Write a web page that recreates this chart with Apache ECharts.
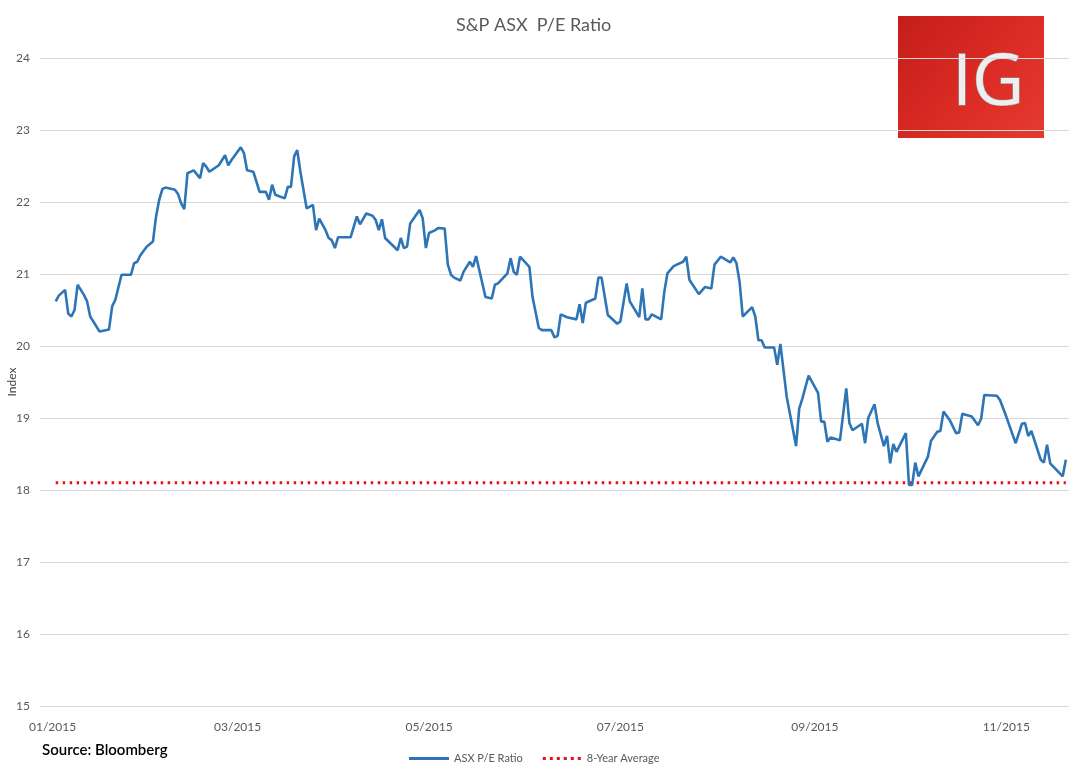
<!DOCTYPE html>
<html>
<head>
<meta charset="utf-8">
<script src="https://cdn.jsdelivr.net/npm/echarts@6/dist/echarts.min.js"></script>
<style>
html,body{margin:0;padding:0;background:#fff;}
#chart{width:1074px;height:771px;}
</style>
</head>
<body>
<div id="chart"></div>
<script>
const titleText = 'S&P ASX  P/E Ratio';
const seriesNames = ['ASX P/E Ratio', '8-Year Average'];
const yTicks = [15, 16, 17, 18, 19, 20, 21, 22, 23, 24];
const xTickDates = ['2015-01-01', '2015-03-01', '2015-05-01', '2015-07-01', '2015-09-01', '2015-11-01'];
const averageValue = 18.1;

const dates = [
'2015-01-02','2015-01-03','2015-01-05','2015-01-06','2015-01-07','2015-01-08','2015-01-09','2015-01-11','2015-01-12','2015-01-13',
'2015-01-14','2015-01-16','2015-01-19','2015-01-20','2015-01-21','2015-01-23','2015-01-26','2015-01-27','2015-01-28','2015-01-29',
'2015-01-31','2015-02-02','2015-02-03','2015-02-04','2015-02-05','2015-02-06','2015-02-09','2015-02-10','2015-02-11','2015-02-12',
'2015-02-13','2015-02-15','2015-02-17','2015-02-18','2015-02-19','2015-02-20','2015-02-23','2015-02-25','2015-02-26','2015-02-27',
'2015-03-02','2015-03-03','2015-03-04','2015-03-06','2015-03-08','2015-03-10','2015-03-11','2015-03-12','2015-03-13','2015-03-16',
'2015-03-17','2015-03-18','2015-03-19','2015-03-20','2015-03-21','2015-03-23','2015-03-25','2015-03-26','2015-03-27','2015-03-29',
'2015-03-30','2015-03-31','2015-04-01','2015-04-02','2015-04-06','2015-04-08','2015-04-09','2015-04-11','2015-04-13','2015-04-14',
'2015-04-15','2015-04-16','2015-04-17','2015-04-21','2015-04-22','2015-04-23','2015-04-24','2015-04-25','2015-04-28','2015-04-29',
'2015-04-30','2015-05-01','2015-05-03','2015-05-04','2015-05-06','2015-05-07','2015-05-08','2015-05-09','2015-05-11','2015-05-12',
'2015-05-14','2015-05-15','2015-05-16','2015-05-17','2015-05-19','2015-05-21','2015-05-22','2015-05-23','2015-05-26','2015-05-27',
'2015-05-28','2015-05-29','2015-05-30','2015-06-02','2015-06-03','2015-06-05','2015-06-06','2015-06-09','2015-06-10','2015-06-11',
'2015-06-12','2015-06-14','2015-06-17','2015-06-18','2015-06-19','2015-06-20','2015-06-23','2015-06-24','2015-06-25','2015-06-27',
'2015-06-30','2015-07-01','2015-07-03','2015-07-04','2015-07-07','2015-07-08','2015-07-09','2015-07-10','2015-07-11','2015-07-14',
'2015-07-15','2015-07-16','2015-07-18','2015-07-19','2015-07-21','2015-07-22','2015-07-23','2015-07-26','2015-07-28','2015-07-30',
'2015-07-31','2015-08-02','2015-08-05','2015-08-06','2015-08-07','2015-08-08','2015-08-09','2015-08-12','2015-08-13','2015-08-14',
'2015-08-15','2015-08-16','2015-08-19','2015-08-20','2015-08-21','2015-08-23','2015-08-26','2015-08-27','2015-08-28','2015-08-30',
'2015-09-02','2015-09-03','2015-09-04','2015-09-05','2015-09-06','2015-09-09','2015-09-11','2015-09-12','2015-09-13','2015-09-16',
'2015-09-17','2015-09-18','2015-09-20','2015-09-21','2015-09-23','2015-09-24','2015-09-25','2015-09-26','2015-09-27','2015-09-30',
'2015-10-01','2015-10-02','2015-10-03','2015-10-04','2015-10-07','2015-10-08','2015-10-10','2015-10-11','2015-10-12','2015-10-14',
'2015-10-16','2015-10-17','2015-10-18','2015-10-21','2015-10-23','2015-10-24','2015-10-25','2015-10-29','2015-10-30','2015-11-01',
'2015-11-04','2015-11-06','2015-11-07','2015-11-08','2015-11-09','2015-11-12','2015-11-13','2015-11-14','2015-11-15','2015-11-19',
'2015-11-20'
];

const peValues = [
20.62,20.70,20.78,20.45,20.41,20.50,20.85,20.71,20.62,20.41,
20.34,20.20,20.23,20.55,20.64,20.99,20.99,21.15,21.17,21.26,
21.38,21.45,21.80,22.03,22.18,22.20,22.17,22.11,21.98,21.90,
22.40,22.44,22.33,22.54,22.49,22.42,22.51,22.65,22.51,22.58,
22.76,22.68,22.44,22.42,22.14,22.14,22.03,22.24,22.10,22.05,
22.21,22.21,22.63,22.72,22.42,21.91,21.96,21.61,21.77,21.61,
21.50,21.47,21.36,21.51,21.51,21.80,21.69,21.84,21.81,21.75,
21.61,21.76,21.50,21.33,21.50,21.36,21.38,21.70,21.89,21.77,
21.36,21.57,21.61,21.64,21.63,21.13,20.99,20.95,20.91,21.03,
21.17,21.10,21.25,21.06,20.68,20.66,20.85,20.87,21.01,21.22,
21.03,20.99,21.24,21.10,20.68,20.25,20.22,20.22,20.12,20.14,
20.44,20.40,20.37,20.58,20.32,20.60,20.66,20.95,20.95,20.43,
20.31,20.34,20.87,20.62,20.40,20.80,20.37,20.37,20.44,20.37,
20.75,21.01,21.11,21.13,21.17,21.24,20.92,20.72,20.82,20.80,
21.13,21.24,21.16,21.23,21.15,20.89,20.41,20.54,20.41,20.08,
20.08,19.98,19.98,19.74,20.03,19.30,18.61,19.13,19.27,19.59,
19.35,18.95,18.95,18.67,18.73,18.69,19.41,18.93,18.83,18.92,
18.65,19.00,19.19,18.93,18.61,18.75,18.37,18.64,18.53,18.79,
18.07,18.07,18.38,18.19,18.46,18.68,18.81,18.82,19.09,18.97,
18.79,18.80,19.06,19.02,18.90,18.99,19.32,19.31,19.25,19.02,
18.65,18.92,18.93,18.75,18.82,18.42,18.38,18.63,18.37,18.19,
18.42
];

const axisMin = '2014-12-28';
const axisMax = '2015-11-21';

function ts(d) { return Date.UTC(+d.slice(0, 4), +d.slice(5, 7) - 1, +d.slice(8, 10)); }

const peData = dates.map((d, i) => [ts(d), peValues[i]]);
const avgData = [[ts(dates[0]), averageValue], [ts(dates[dates.length - 1]), averageValue]];
const tickTimes = xTickDates.map(ts);

const FONT = 'Lato, "Open Sans", sans-serif';
const chart = echarts.init(document.getElementById('chart'), null, {renderer: 'canvas'});

chart.setOption({
  animation: false,
  backgroundColor: '#ffffff',
  title: {
    text: titleText,
    left: 451,
    top: 11,
    textStyle: {fontFamily: FONT, fontSize: 18, fontWeight: 'normal', color: '#595959'}
  },
  grid: {left: 40, right: 5, top: 58, bottom: 65, containLabel: false, outerBoundsMode: 'none'},
  legend: {
    bottom: 2,
    left: 404,
    itemWidth: 40,
    itemHeight: 3,
    itemGap: 20,
    textStyle: {fontFamily: FONT, fontSize: 11, color: '#595959'},
    data: [
      {name: seriesNames[0], icon: 'path://M0,0 L40,0 L40,3 L0,3 Z'},
      {name: seriesNames[1], icon: 'path://M0,0 h3 v3 h-3 Z M7,0 h3 v3 h-3 Z M14,0 h3 v3 h-3 Z M21,0 h3 v3 h-3 Z M28,0 h3 v3 h-3 Z M35,0 h3 v3 h-3 Z'}
    ]
  },
  xAxis: {
    type: 'value',
    min: ts(axisMin),
    max: ts(axisMax),
    axisLine: {show: false},
    axisTick: {show: false},
    splitLine: {show: false},
    axisLabel: {
      customValues: tickTimes,
      margin: 15,
      fontFamily: FONT,
      fontSize: 12,
      color: '#595959',
      formatter: function (v) {
        const d = new Date(v);
        const m = d.getUTCMonth() + 1;
        return (m < 10 ? '0' + m : m) + '/' + d.getUTCFullYear();
      }
    }
  },
  yAxis: {
    type: 'value',
    min: yTicks[0],
    max: yTicks[yTicks.length - 1],
    interval: 1,
    name: 'Index',
    nameLocation: 'middle',
    nameGap: 22,
    nameMoveOverlap: false,
    nameTextStyle: {fontFamily: FONT, fontSize: 12, color: '#404040'},
    axisLine: {show: false},
    axisTick: {show: false},
    axisLabel: {margin: 10, fontFamily: FONT, fontSize: 12, color: '#595959'},
    splitLine: {lineStyle: {color: '#d9d9d9', width: 1}}
  },
  series: [
    {
      name: seriesNames[0],
      type: 'line',
      data: peData,
      symbol: 'none',
      showSymbol: false,
      lineStyle: {color: '#2e75b6', width: 2.6},
      itemStyle: {color: '#2e75b6'},
      z: 3
    },
    {
      name: seriesNames[1],
      type: 'line',
      data: avgData,
      symbol: 'none',
      showSymbol: false,
      lineStyle: {color: '#e8101a', width: 3, type: [2.5, 4.5]},
      itemStyle: {color: '#e8101a'},
      z: 2
    }
  ],
  graphic: [
    {
      type: 'text',
      left: 42,
      top: 743,
      style: {text: 'Source: Bloomberg', fill: '#000000', font: '600 15px ' + FONT}
    },
    {
      type: 'group',
      left: 898,
      top: 16,
      z: 100,
      children: [
        {
          type: 'rect',
          shape: {x: 0, y: 0, width: 146, height: 122},
          style: {
            fill: new echarts.graphic.LinearGradient(0, 0, 1, 1, [
              {offset: 0, color: '#c41e1a'},
              {offset: 0.5, color: '#d92a23'},
              {offset: 1, color: '#e53b2f'}
            ])
          }
        },
        {
          type: 'text',
          x: 54,
          y: 32,
          style: {
            text: 'IG',
            font: 'normal 72px "Open Sans", sans-serif',
            fill: '#eeeeee',
            stroke: '#9a9a9a',
            lineWidth: 1.2,
            shadowBlur: 3,
            shadowColor: 'rgba(0,0,0,0.4)',
            shadowOffsetX: 1,
            shadowOffsetY: 1
          }
        }
      ]
    }
  ]
});
</script>
</body>
</html>
